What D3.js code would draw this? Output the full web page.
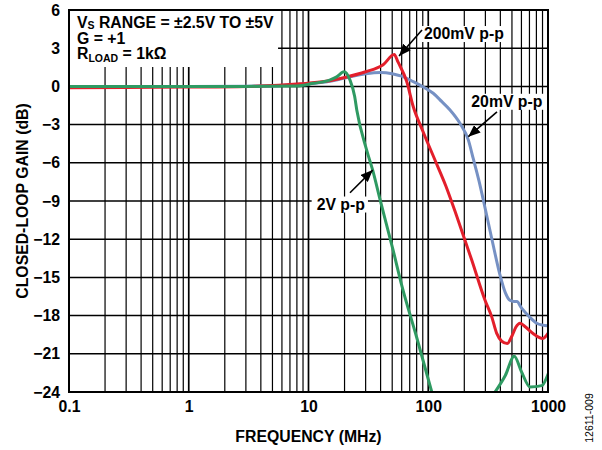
<!DOCTYPE html>
<html>
<head>
<meta charset="utf-8">
<script src="https://cdn.jsdelivr.net/npm/d3@7/dist/d3.min.js"></script>
<style>
  html, body { margin: 0; padding: 0; background: #fff; }
  svg { display: block; }
  text { font-family: "Liberation Sans", Arial, Helvetica, sans-serif; font-weight: bold; fill: #000; }
</style>
</head>
<body>
<svg id="chart" width="602" height="450"></svg>
<script>
// ---------------- data ----------------
const xTicks = [0.1, 1, 10, 100, 1000];
const xTickLabels = ["0.1", "1", "10", "100", "1000"];
const yTicks = [6, 3, 0, -3, -6, -9, -12, -15, -18, -21, -24];
const yTickLabels = ["6", "3", "0", "\u22123", "\u22126", "\u22129", "\u221212", "\u221215", "\u221218", "\u221221", "\u221224"];

// 20mV p-p (blue)
const blueFreq = [0.1, 0.3, 1, 3, 6, 10, 15, 20, 30, 40, 50, 60, 75, 91, 110, 130, 152, 184, 216, 238, 265, 288, 340, 397, 440, 480, 520, 550, 600, 700, 805, 900, 1000];
const blueGain = [0, 0, 0, 0.02, 0.08, 0.2, 0.4, 0.65, 1.0, 1.1, 1.0, 0.8, 0.37, -0.05, -0.54, -1.2, -1.85, -2.9, -4.2, -5.7, -7.4, -8.9, -12.0, -14.8, -16.2, -16.8, -16.9, -16.9, -17.4, -18.1, -18.6, -18.75, -18.8];

// 200mV p-p (red)
const redFreq = [0.1, 0.3, 1, 3, 8.5, 14, 20, 30, 42, 52, 56, 66, 75, 90, 114, 140, 173, 230, 298, 339, 373, 410, 457, 500, 540, 584, 650, 750, 903, 1000];
const redGain = [-0.1, -0.08, -0.05, 0, 0.2, 0.4, 0.7, 1.15, 1.7, 2.5, 1.9, 0.4, -1.6, -3.5, -5.8, -7.8, -10.2, -13.6, -16.8, -18.1, -19.4, -20.0, -20.2, -19.6, -18.9, -18.6, -18.9, -19.4, -19.8, -19.4];

// 2V p-p (green) — null marks the stretch below the axis
const greenFreq = [0.1, 0.3, 1, 3, 8, 11, 15, 17.2, 19.8, 22.2, 24.3, 25.3, 30.6, 34.4, 39.6, 51, 60, 80, 107, 200, 361, 440, 523, 600, 708, 886, 1000];
const greenGain = [0, 0, 0, 0, 0.03, 0.24, 0.5, 0.75, 1.15, 0.5, -0.8, -1.85, -5.0, -6.6, -8.9, -12.9, -15.6, -19.7, -24, null, -24, -22.7, -21.2, -22.4, -23.6, -23.5, -22.6];

const series = [
  { name: "20mV p-p", freq: blueFreq, gain: blueGain, color: "#7691c4" },
  { name: "200mV p-p", freq: redFreq, gain: redGain, color: "#e31f2b" },
  { name: "2V p-p", freq: greenFreq, gain: greenGain, color: "#2f9a62" }
];

// annotations in data space: text baseline-left, arrow tail and tip
const annotations = [
  { text: "200mV p-p", tf: 92, tg: 3.72, tail: [88.7, 4.43], tip: [57, 2.39] },
  { text: "20mV p-p", tf: 229, tg: -1.6, tail: [375, -2.0], tip: [216, -3.95] },
  { text: "2V p-p", tf: 11.7, tg: -9.67, tail: [22.2, -8.35], tip: [34.4, -6.57] }
];

// ---------------- layout ----------------
const W = 602, H = 450;
const margin = { top: 10, right: 54, bottom: 58, left: 69 };
const svg = d3.select("#chart");
const FS = 15.8;

const x = d3.scaleLog().domain([0.1, 1000]).range([margin.left, W - margin.right]);
const y = d3.scaleLinear().domain([-24, 6]).range([H - margin.bottom, margin.top]);

const x0 = x.range()[0], x1 = x.range()[1], y0 = y.range()[1], y1 = y.range()[0];

svg.append("defs").append("clipPath").attr("id", "plotclip")
  .append("rect").attr("x", x0).attr("y", y0).attr("width", x1 - x0).attr("height", y1 - y0);

svg.append("defs").append("marker")
  .attr("id", "ah").attr("viewBox", "0 0 12 10").attr("refX", 12).attr("refY", 5)
  .attr("markerWidth", 12).attr("markerHeight", 10).attr("markerUnits", "userSpaceOnUse")
  .attr("orient", "auto")
  .append("path").attr("d", "M0,0 L12,5 L0,10 Z").attr("fill", "#000");

// grid
const vGrid = [];
[0.1, 1, 10, 100].forEach(d => { for (let k = 1; k <= 9; k++) vGrid.push({ f: k * d, major: k === 1 }); });
const grid = svg.append("g");
grid.selectAll("line.v").data(vGrid.filter(d => d.f > 0.1)).join("line")
  .attr("x1", d => x(d.f)).attr("x2", d => x(d.f))
  .attr("y1", y0).attr("y2", y1)
  .attr("stroke", "#000").attr("stroke-width", d => d.major ? 1.7 : 1.2);
grid.selectAll("line.h").data(yTicks.filter(v => v > -24 && v < 6)).join("line")
  .attr("x1", x0).attr("x2", x1)
  .attr("y1", d => y(d)).attr("y2", d => y(d))
  .attr("stroke", "#000").attr("stroke-width", 1.5);

// legend text box (hides grid) — one text element, three lines
const legendBg = svg.append("rect").attr("fill", "#fff");
const lx = x0 + 8;
const lt = svg.append("text").attr("x", lx).attr("y", y0 + 17.5).attr("font-size", FS);
lt.append("tspan").attr("x", lx).text("V");
lt.append("tspan").attr("font-size", 10.5).attr("dy", 1.5).text("S");
lt.append("tspan").attr("dy", -1.5).text(" RANGE = \u00B12.5V TO \u00B15V");
lt.append("tspan").attr("x", lx).attr("dy", 16).text("G = +1");
lt.append("tspan").attr("x", lx).attr("dy", 15.5).text("R");
lt.append("tspan").attr("font-size", 10.5).attr("dy", 3).text("LOAD");
lt.append("tspan").attr("dy", -3).text(" = 1k\u03A9");
const lb = lt.node().getBBox();
legendBg.attr("x", x0).attr("y", y0)
  .attr("width", lb.x + lb.width + 4 - x0).attr("height", lb.y + lb.height + 3 - y0);

// annotation label backgrounds + text
const annG = svg.append("g");
annotations.forEach(a => {
  const bg = annG.append("rect").attr("fill", "#fff");
  const t = annG.append("text").attr("x", x(a.tf)).attr("y", y(a.tg)).attr("font-size", FS).text(a.text);
  const b = t.node().getBBox();
  bg.attr("x", b.x - 5).attr("y", b.y + 1).attr("width", b.width + 8).attr("height", b.height - 1);
});

// curves
const line = d3.line()
  .defined((d) => d[1] !== null)
  .x(d => x(d[0])).y(d => y(d[1]))
  .curve(d3.curveMonotoneX);
const curves = svg.append("g").attr("clip-path", "url(#plotclip)");
series.forEach(s => {
  const pts = s.freq.map((f, i) => [f, s.gain[i]]);
  curves.append("path").attr("d", line(pts))
    .attr("fill", "none").attr("stroke", s.color).attr("stroke-width", 3)
    .attr("stroke-linejoin", "round").attr("stroke-linecap", "round");
});

// arrows
annotations.forEach(a => {
  svg.append("line")
    .attr("x1", x(a.tail[0])).attr("y1", y(a.tail[1]))
    .attr("x2", x(a.tip[0])).attr("y2", y(a.tip[1]))
    .attr("stroke", "#000").attr("stroke-width", 1.6)
    .attr("marker-end", "url(#ah)");
});

// frame
svg.append("rect").attr("x", x0).attr("y", y0).attr("width", x1 - x0).attr("height", y1 - y0)
  .attr("fill", "none").attr("stroke", "#000").attr("stroke-width", 2);

// axes labels
const xAxis = d3.axisBottom(x).tickValues(xTicks).tickSize(0).tickPadding(9)
  .tickFormat((d, i) => xTickLabels[i]);
const gx = svg.append("g").attr("transform", `translate(0,${y1})`).call(xAxis);
gx.select(".domain").remove();
gx.attr("font-family", null);
gx.selectAll("text").attr("font-size", FS).attr("fill", "#000");

const yAxis = d3.axisLeft(y).tickValues(yTicks).tickSize(0).tickPadding(9)
  .tickFormat((d, i) => yTickLabels[i]);
const gy = svg.append("g").attr("transform", `translate(${x0},0)`).call(yAxis);
gy.select(".domain").remove();
gy.attr("font-family", null);
gy.selectAll("text").attr("font-size", FS).attr("fill", "#000");

// titles
svg.append("text").attr("x", (x0 + x1) / 2).attr("y", 441.5).attr("text-anchor", "middle")
  .attr("font-size", FS).text("FREQUENCY (MHz)");
svg.append("text").attr("transform", `translate(27.5,${(y0 + y1) / 2}) rotate(-90)`)
  .attr("text-anchor", "middle").attr("font-size", FS).text("CLOSED-LOOP GAIN (dB)");
svg.append("text").attr("transform", `translate(593,418) rotate(-90)`)
  .attr("text-anchor", "middle").attr("font-size", 10.5).style("font-weight", "normal")
  .text("12611-009");
</script>
</body>
</html>
